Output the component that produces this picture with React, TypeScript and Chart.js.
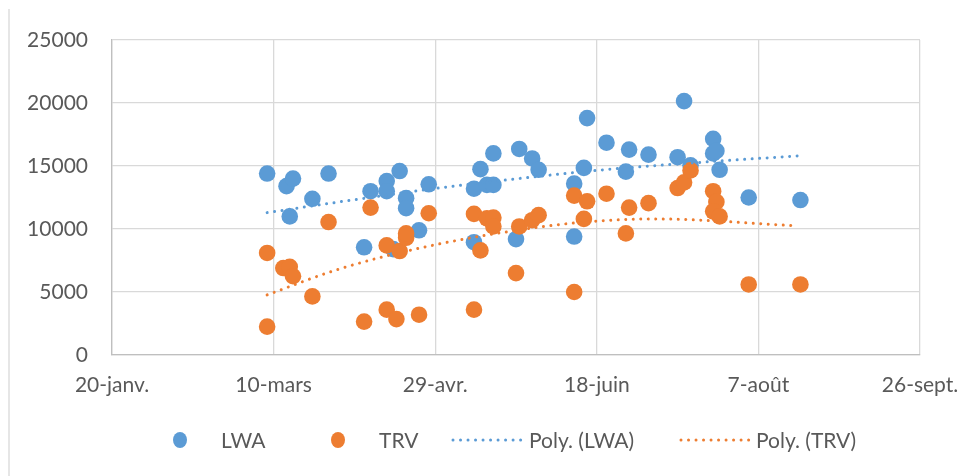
import React, { useEffect, useRef } from "react";
import { Chart, registerables } from "chart.js";

Chart.register(...registerables);

// x values are day-of-year numbers (leap year, e.g. 2016): 20 = 20-janv., 70 = 10-mars ...
const xTickLabels = ["20-janv.", "10-mars", "29-avr.", "18-juin", "7-août", "26-sept."];
const xTickDays = [20, 70, 120, 170, 220, 270];
const yTickValues = [0, 5000, 10000, 15000, 20000, 25000];

const lwaDays = [68, 74, 76, 75, 82, 87, 98, 100, 105, 105, 107, 109, 111, 111, 115, 118, 132, 132, 134, 136, 138, 138, 145, 146, 150, 152, 163, 163, 166, 167, 173, 179, 180, 186, 195, 197, 199, 206, 206, 207, 208, 217, 233];
const lwaValues = [14400, 13400, 14000, 11000, 12400, 14400, 8550, 13000, 13800, 13000, 8400, 14600, 12450, 11650, 9900, 13550, 13200, 8950, 14750, 13500, 13500, 16000, 9200, 16350, 15600, 14700, 13600, 9400, 14850, 18800, 16850, 14550, 16300, 15900, 15700, 20150, 15050, 17150, 16000, 16200, 14700, 12500, 12300];

const trvDays = [68, 68, 73, 75, 76, 82, 87, 98, 100, 105, 105, 108, 109, 111, 111, 115, 118, 132, 132, 134, 136, 138, 138, 145, 146, 150, 152, 163, 163, 166, 167, 173, 179, 180, 186, 195, 197, 199, 206, 207, 206, 208, 217, 233];
const trvValues = [8100, 2250, 6900, 7000, 6250, 4650, 10550, 2650, 11700, 3600, 8700, 2850, 8250, 9300, 9650, 3200, 11250, 11200, 3600, 8300, 10850, 10900, 10200, 6500, 10200, 10700, 11100, 5000, 12650, 10800, 12200, 12800, 9650, 11700, 12050, 13250, 13700, 14650, 13000, 12150, 11400, 11000, 5600, 5600];

// Polynomial trendlines, values
const lwaTrendDays = [68, 96.5, 121, 158.6, 173, 202, 232];
const lwaTrendValues = [11300, 12380, 13250, 14360, 14720, 15290, 15800];
const trvTrendDays = [68, 90, 118, 153, 172, 187.5, 232];
const trvTrendValues = [4770, 6800, 8640, 10180, 10660, 10800, 10250];

const seriesNames = ["LWA", "TRV", "Poly. (LWA)", "Poly. (TRV)"];
const BLUE = "#5B9BD5";
const ORANGE = "#ED7D31";
const TEXT = "#595959";
const FONT = "Lato, 'Open Sans', sans-serif";

const toPoints = (xs: number[], ys: number[]) => xs.map((x, i) => ({ x, y: ys[i] }));

const decorPlugin = {
  id: "decor",
  beforeDraw(chart: any) {
    const ctx = chart.ctx;
    ctx.save();
    ctx.fillStyle = "#ffffff";
    ctx.fillRect(0, 0, chart.width, chart.height);
    ctx.strokeStyle = "#d9d9d9";
    ctx.lineWidth = 1.3;
    ctx.beginPath();
    ctx.moveTo(9, 9);
    ctx.lineTo(9, chart.height);
    ctx.stroke();
    ctx.restore();
  },
  afterDraw(chart: any) {
    const ctx = chart.ctx;
    const y = 440;
    ctx.save();
    ctx.font = `21px ${FONT}`;
    ctx.fillStyle = TEXT;
    ctx.textBaseline = "middle";
    ctx.textAlign = "left";
    const markerItems = [
      { color: BLUE, cx: 180, tx: 221, label: seriesNames[0] },
      { color: ORANGE, cx: 338, tx: 379, label: seriesNames[1] },
    ];
    for (const it of markerItems) {
      ctx.fillStyle = it.color;
      ctx.beginPath();
      ctx.ellipse(it.cx, y, 7, 8, 0, 0, Math.PI * 2);
      ctx.fill();
      ctx.fillStyle = TEXT;
      ctx.fillText(it.label, it.tx, y + 1);
    }
    const lineItems = [
      { color: BLUE, x0: 453, x1: 523, tx: 529, label: seriesNames[2] },
      { color: ORANGE, x0: 681, x1: 750, tx: 756, label: seriesNames[3] },
    ];
    for (const it of lineItems) {
      ctx.strokeStyle = it.color;
      ctx.lineWidth = 3;
      ctx.lineCap = "round";
      ctx.setLineDash([0.01, 7.5]);
      ctx.beginPath();
      ctx.moveTo(it.x0, y);
      ctx.lineTo(it.x1, y);
      ctx.stroke();
      ctx.setLineDash([]);
      ctx.fillStyle = TEXT;
      ctx.fillText(it.label, it.tx, y + 1);
    }
    ctx.restore();
  },
};

export default function App() {
  const ref = useRef<HTMLCanvasElement | null>(null);

  useEffect(() => {
    if (!ref.current) return;
    const trendStyle = {
      showLine: true,
      pointRadius: 0,
      pointHoverRadius: 0,
      borderWidth: 3,
      borderDash: [0.01, 7.5],
      borderCapStyle: "round",
      cubicInterpolationMode: "monotone",
      fill: false,
    };
    const chart = new Chart(ref.current, {
      type: "scatter",
      data: {
        datasets: [
          {
            label: seriesNames[0],
            data: toPoints(lwaDays, lwaValues),
            backgroundColor: BLUE,
            borderColor: BLUE,
            borderWidth: 0,
            pointRadius: 8.3,
            pointHoverRadius: 8.3,
            order: 4,
          },
          {
            label: seriesNames[1],
            data: toPoints(trvDays, trvValues),
            backgroundColor: ORANGE,
            borderColor: ORANGE,
            borderWidth: 0,
            pointRadius: 8.3,
            pointHoverRadius: 8.3,
            order: 3,
          },
          {
            ...trendStyle,
            label: seriesNames[2],
            data: toPoints(lwaTrendDays, lwaTrendValues),
            borderColor: BLUE,
            order: 2,
          },
          {
            ...trendStyle,
            label: seriesNames[3],
            data: toPoints(trvTrendDays, trvTrendValues),
            borderColor: ORANGE,
            order: 1,
          },
        ],
      } as any,
      options: {
        animation: false,
        responsive: false,
        maintainAspectRatio: false,
        devicePixelRatio: 1,
        layout: { padding: { left: 0, right: 60, top: 40, bottom: 0 } },
        plugins: {
          legend: { display: false },
          tooltip: { enabled: false },
        },
        scales: {
          x: {
            type: "linear",
            min: xTickDays[0],
            max: xTickDays[xTickDays.length - 1],
            afterBuildTicks: (scale: any) => {
              scale.ticks = xTickDays.map((v) => ({ value: v }));
            },
            afterFit: (scale: any) => {
              scale.height = 121;
            },
            ticks: {
              autoSkip: false,
              maxRotation: 0,
              padding: 18,
              color: TEXT,
              font: { size: 21, family: FONT },
              callback: (v: any) => {
                const i = xTickDays.indexOf(Number(v));
                return i >= 0 ? xTickLabels[i] : "";
              },
            },
            grid: { color: "#d9d9d9", lineWidth: 1.3, drawTicks: false },
            border: { color: "#bfbfbf", width: 1.3 },
          },
          y: {
            type: "linear",
            min: yTickValues[0],
            max: yTickValues[yTickValues.length - 1],
            afterBuildTicks: (scale: any) => {
              scale.ticks = yTickValues.map((v) => ({ value: v }));
            },
            afterFit: (scale: any) => {
              scale.width = 112;
            },
            ticks: {
              padding: 24,
              color: TEXT,
              font: { size: 21, family: FONT },
              callback: (v: any) => String(v),
            },
            grid: { color: "#d9d9d9", lineWidth: 1.3, drawTicks: false },
            border: { color: "#bfbfbf", width: 1.3 },
          },
        },
      } as any,
      plugins: [decorPlugin],
    });
    return () => chart.destroy();
  }, []);

  return (
    <div style={{ position: "absolute", left: 0, top: 0, width: 980, height: 476, background: "#fff" }}>
      <canvas ref={ref} width={980} height={476} style={{ display: "block", width: 980, height: 476 }} />
    </div>
  );
}
